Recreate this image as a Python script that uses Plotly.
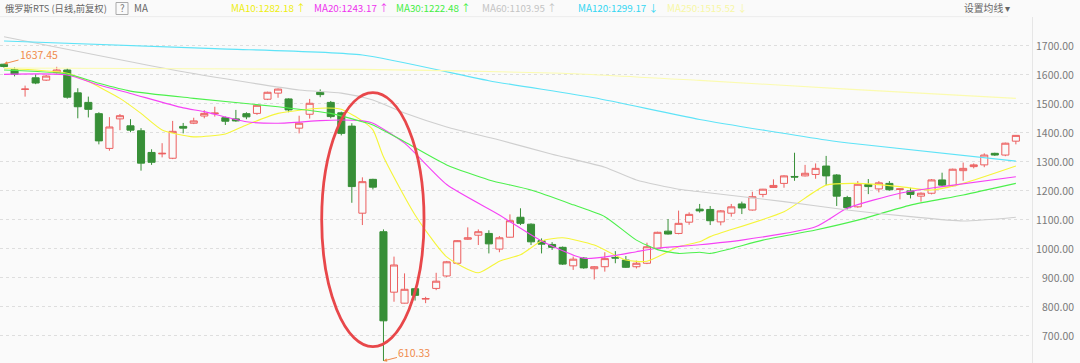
import plotly.graph_objects as go

# ---------------- data ----------------
opens = [1636, 1617, 1549, 1589, 1581, 1607, 1616, 1537, 1504, 1465,
         1345, 1447, 1423, 1406, 1331, 1326, 1311, 1421, 1432, 1457,
         1465, 1451, 1447, 1465, 1466, 1515, 1536, 1516, 1415, 1463,
         1539, 1504, 1468, 1422, 1121, 1238, 1057, 848, 810, 860,
         824, 861, 904, 948, 1031, 1045, 1051, 997, 1038, 1107,
         1083, 1026, 1013, 1003, 939, 966, 929, 936, 968, 959,
         936, 948, 1000, 1059, 1051, 1090, 1135, 1134, 1091, 1121,
         1153, 1132, 1186, 1210, 1224, 1248, 1250, 1255, 1284, 1253,
         1175, 1143, 1220, 1205, 1224, 1203, 1198, 1180, 1190, 1236,
         1216, 1268, 1282, 1288, 1328, 1322, 1370]
highs = [1637.45, 1625, 1562, 1601, 1599, 1627, 1622, 1553, 1524, 1470,
         1453, 1464, 1446, 1415, 1342, 1363, 1440, 1433, 1451, 1477,
         1489, 1455, 1478, 1470, 1496, 1541, 1552, 1518, 1458, 1516,
         1549, 1509, 1472, 1432, 1245, 1240, 1065, 971, 913, 862,
         832, 915, 956, 1028, 1072, 1065, 1062, 1042, 1117, 1138,
         1086, 1034, 1021, 1006, 971, 969, 938, 986, 990, 973,
         957, 1019, 1057, 1101, 1130, 1124, 1153, 1146, 1132, 1153,
         1161, 1195, 1205, 1238, 1252, 1330, 1288, 1293, 1319, 1256,
         1181, 1232, 1239, 1232, 1232, 1207, 1209, 1193, 1239, 1261,
         1275, 1296, 1293, 1328, 1330, 1365, 1391]
lows = [1624, 1594, 1524, 1567, 1578, 1604, 1517, 1449, 1452, 1359,
        1337, 1408, 1401, 1268, 1288, 1314, 1308, 1397, 1429, 1449,
        1455, 1426, 1437, 1446, 1461, 1512, 1520, 1470, 1397, 1448,
        1522, 1449, 1390, 1157, 1080, 1203, 610.33, 815, 809, 819,
        810, 855, 900, 944, 1029, 1011, 982, 986, 1037, 1080,
        1011, 982, 994, 942, 925, 929, 892, 919, 948, 932,
        930, 945, 997, 1047, 1048, 1081, 1123, 1080, 1079, 1109,
        1118, 1130, 1176, 1208, 1209, 1233, 1248, 1240, 1218, 1146,
        1134, 1140, 1187, 1193, 1199, 1169, 1172, 1161, 1186, 1215,
        1213, 1233, 1276, 1280, 1319, 1318, 1359]
closes = [1628, 1601, 1550, 1571, 1595, 1616, 1522, 1489, 1480, 1371,
          1419, 1458, 1408, 1294, 1297, 1328, 1404, 1415, 1440, 1466,
          1467, 1439, 1440, 1454, 1494, 1539, 1550, 1478, 1432, 1501,
          1531, 1455, 1397, 1213, 1230, 1211, 749, 942, 858, 837,
          826, 886, 953, 1026, 1036, 1057, 1015, 1036, 1095, 1086,
          1022, 1014, 1003, 945, 962, 932, 936, 964, 966, 934,
          948, 1005, 1055, 1049, 1086, 1117, 1129, 1095, 1129, 1143,
          1139, 1178, 1204, 1217, 1250, 1246, 1259, 1276, 1250, 1180,
          1140, 1221, 1213, 1226, 1202, 1205, 1186, 1190, 1236, 1218,
          1273, 1276, 1288, 1322, 1322, 1363, 1390]
days = list(range(len(opens)))

# moving-average curves (day index -> value)
ma10_x = [0, 6, 8, 11, 13, 15, 18, 21, 23, 26, 30, 32, 34, 35, 36, 39, 42, 45, 47, 49, 51, 53, 56, 59, 61, 64, 66, 67, 74, 78, 81, 85, 88, 91, 96]
ma10_y = [1622, 1605, 1576, 1518, 1466, 1409, 1385, 1395, 1426, 1466, 1484, 1480, 1440, 1409, 1316, 1115, 970, 915, 955, 977, 1025, 1036, 1011, 959, 955, 1005, 1022, 1040, 1126, 1218, 1224, 1213, 1201, 1224, 1284]
ma20_x = [0, 6, 9, 12, 17, 19, 23, 26, 30, 32, 34, 35, 38, 42, 47, 51, 55, 58, 60, 62, 66, 70, 77, 80, 85, 89, 96]
ma20_y = [1601, 1599, 1564, 1535, 1485, 1472, 1437, 1432, 1441, 1443, 1440, 1432, 1363, 1220, 1115, 1025, 965, 975, 988, 1000, 1012, 1028, 1074, 1138, 1190, 1213, 1247]
ma30_x = [0, 6, 9, 12, 18, 26, 31, 34, 35, 38, 42, 46, 50, 54, 57, 60, 62, 64, 66, 67, 72, 77, 81, 86, 91, 96]
ma30_y = [1616, 1602, 1570, 1543, 1518, 1489, 1466, 1437, 1426, 1368, 1288, 1236, 1201, 1150, 1109, 1028, 995, 982, 986, 982, 1028, 1063, 1097, 1149, 1184, 1224]
ma60_x = [0, 17, 28, 32, 35, 38, 42, 47, 52, 57, 60, 64, 66, 74, 80, 86, 91, 96]
ma60_y = [1731, 1610, 1547, 1536, 1512, 1467, 1419, 1374, 1325, 1280, 1236, 1204, 1195, 1161, 1132, 1109, 1094, 1107]
ma120_x = [0, 20, 34, 46, 56, 66, 78, 81, 96]
ma120_y = [1716, 1690, 1668, 1579, 1520, 1445, 1374, 1360, 1301]
ma250_x = [0, 34, 53, 66, 80, 96]
ma250_y = [1623, 1618, 1605, 1580, 1550, 1518]

ma_names = ["MA10", "MA20", "MA30", "MA60", "MA120", "MA250"]
ma_last = [1282.18, 1243.17, 1222.48, 1103.95, 1299.17, 1515.52]
ma_arrow = ["↑", "↑", "↑", "↑", "↓", "↓"]
ma_line_colors = ["#f5f53a", "#f542f5", "#4cf04c", "#cfcfcf", "#5ee3f7", "#fbfbb0"]
ma_text_colors = ["#eeee10", "#ee33ee", "#44ee44", "#c4c4c4", "#33d6f2", "#f7f7a6"]
ma_series = [(ma10_x, ma10_y), (ma20_x, ma20_y), (ma30_x, ma30_y),
             (ma60_x, ma60_y), (ma120_x, ma120_y), (ma250_x, ma250_y)]

y_ticks = [700, 800, 900, 1000, 1100, 1200, 1300, 1400, 1500, 1600, 1700]
title_text = "俄罗斯RTS (日线,前复权)"
hi_label = "1637.45"
lo_label = "610.33"

# ---------------- style ----------------
W, H = 1080, 363
ML, MR, MT, MB = 0, 48, 17, 0
PW, PH = W - ML - MR, H - MT - MB
BG = "#fafafa"
UP = "#ec5f5f"
DOWN = "#378f37"
FONT = "Noto Sans CJK SC, Noto Sans, sans-serif"


def px_x(p):
    return (p - ML) / PW


def px_y(p):
    return (H - MB - p) / PH


fig = go.Figure()

fig.add_trace(go.Candlestick(
    x=days, open=opens, high=highs, low=lows, close=closes,
    increasing=dict(line=dict(color=UP, width=1), fillcolor=BG),
    decreasing=dict(line=dict(color=DOWN, width=1), fillcolor=DOWN),
    whiskerwidth=0, hoverinfo="skip", showlegend=False,
))

for (xs, ys), col in zip(ma_series, ma_line_colors):
    fig.add_trace(go.Scatter(x=xs, y=ys, mode="lines",
                             line=dict(color=col, width=1.1, shape="spline", smoothing=0.6),
                             hoverinfo="skip", showlegend=False))

fig.update_layout(
    width=W, height=H,
    margin=dict(l=ML, r=MR, t=MT, b=MB, pad=0),
    paper_bgcolor=BG, plot_bgcolor=BG,
    font=dict(family=FONT, size=11, color="#666"),
    boxgap=0.33, boxgroupgap=0,
    xaxis=dict(visible=False, range=[-0.38, 97.53], rangeslider=dict(visible=False),
               showgrid=False, zeroline=False),
    yaxis=dict(side="right", range=[603.2, 1799.2], tickvals=y_ticks,
               showgrid=True, gridcolor="#dedede", griddash="dot", gridwidth=1,
               zeroline=False, showline=True, linecolor="#e6e6e6", linewidth=1,
               ticks="", showticklabels=False),
    showlegend=False,
)

# right-aligned price labels next to the axis
for v in y_ticks:
    fig.add_annotation(x=px_x(1076), y=v, xref="paper", yref="y", text=f"{v:.2f}",
                       showarrow=False, xanchor="right", yanchor="middle",
                       font=dict(color="#7a7a7a", size=10.5, family=FONT))

# highlight ellipse around the crash
fig.add_shape(type="circle", xref="x", yref="y", x0=30.14, x1=39.85, y0=659.6, y1=1537.5,
              line=dict(color="#e8474a", width=2.8), layer="above")

# header separator
fig.add_shape(type="line", xref="paper", yref="paper", x0=0, x1=px_x(1008),
              y0=px_y(16.7), y1=px_y(16.7), line=dict(color="#ececec", width=1))

# high / low markers
fig.add_annotation(x=0, y=1637.45, xref="x", yref="y", text=hi_label, showarrow=True,
                   ax=35, ay=-9, arrowhead=2, arrowsize=0.7, arrowwidth=1, arrowcolor="#f08a4b",
                   font=dict(color="#f08a4b", size=10.5, family=FONT))
fig.add_annotation(x=36, y=610.33, xref="x", yref="y", text=lo_label, showarrow=True,
                   ax=31, ay=-8, arrowhead=2, arrowsize=0.7, arrowwidth=1, arrowcolor="#f08a4b",
                   font=dict(color="#f08a4b", size=10.5, family=FONT))


# header texts
def header(text, xpx, color, size=9.8, anchor="left"):
    fig.add_annotation(x=px_x(xpx), y=px_y(8), xref="paper", yref="paper", text=text,
                       showarrow=False, xanchor=anchor, yanchor="middle",
                       font=dict(color=color, size=size, family=FONT))


header(title_text, 3, "#666", size=9.3)
fig.add_shape(type="rect", xref="paper", yref="paper", x0=px_x(116), x1=px_x(128),
              y0=px_y(14.5), y1=px_y(2.5), line=dict(color="#aaaaaa", width=1))
header("?", 122, "#777", anchor="center")
header("MA", 132, "#666")

ma_x_px = [229, 312, 394, 480, 576, 665]
for name, val, arr, col, xp in zip(ma_names, ma_last, ma_arrow, ma_text_colors, ma_x_px):
    header(f"{name}:{val:.2f} {arr}", xp, col)

header("设置均线 ▾", 962, "#666")

fig.write_html("out.html", config={"displayModeBar": False},
               post_script="document.body.style.margin='0px';")
